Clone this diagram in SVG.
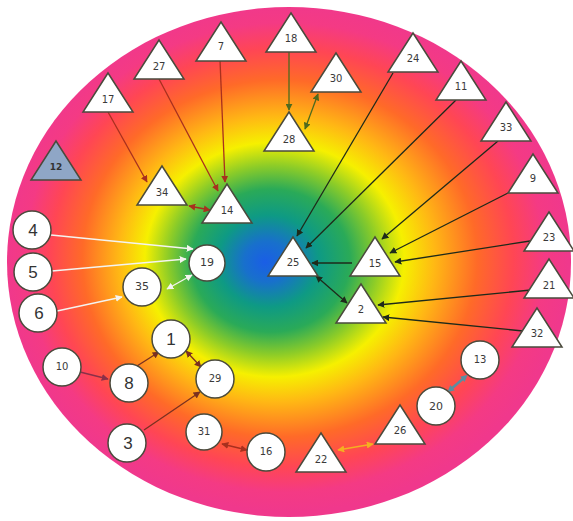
<svg xmlns="http://www.w3.org/2000/svg" xmlns:xlink="http://www.w3.org/1999/xlink" width="573" height="521" viewBox="0 0 573 521">
<style>
.tri{fill:#ffffff;stroke:#4a4a3c;stroke-width:1.5;stroke-linejoin:miter}
.cir{fill:#ffffff;stroke:#4a4a3c;stroke-width:1.5}
.t{font-family:"DejaVu Sans","Liberation Sans",sans-serif;font-size:10px;fill:#3a3a3a;text-anchor:middle}
.big{font-family:"Liberation Sans","DejaVu Sans",sans-serif;font-size:17px;fill:#333;text-anchor:middle}
.c{fill:none;stroke-width:1.3}
.red{stroke:#a8301e}
.olv{stroke:#4e6a1e}
.dk{stroke:#1e2a1a}
.wh{stroke:#f4f4f0}
.brn{stroke:#7a3020}
.tl{stroke:#5a8ea0;stroke-width:2.5}
.or{stroke:#f4b020;stroke-width:1.6}
.pr{stroke:#8a3048}
</style>
<defs>
<radialGradient id="bg" cx="0.495" cy="0.49" r="0.5" fx="0.457" fy="0.5">
<stop offset="0" stop-color="#1a5ee6"/>
<stop offset="0.08" stop-color="#1870cc"/>
<stop offset="0.18" stop-color="#0e9a84"/>
<stop offset="0.28" stop-color="#2aaa58"/>
<stop offset="0.37" stop-color="#8ccc28"/>
<stop offset="0.46" stop-color="#f6f000"/>
<stop offset="0.56" stop-color="#ffb814"/>
<stop offset="0.7" stop-color="#ff6a28"/>
<stop offset="0.82" stop-color="#ff4654"/>
<stop offset="0.92" stop-color="#f43a84"/>
<stop offset="1" stop-color="#f0388c"/>
</radialGradient>
<polygon id="tri" points="0,0 25,39 -25,39"/>
<marker id="aRed" viewBox="0 0 10 10" refX="9" refY="5" markerWidth="7" markerHeight="7" markerUnits="userSpaceOnUse" orient="auto-start-reverse"><path d="M0,0 L10,5 L0,10 Z" fill="#a8301e"/></marker>
<marker id="aOlv" viewBox="0 0 10 10" refX="9" refY="5" markerWidth="7" markerHeight="7" markerUnits="userSpaceOnUse" orient="auto-start-reverse"><path d="M0,0 L10,5 L0,10 Z" fill="#4e6a1e"/></marker>
<marker id="aDk" viewBox="0 0 10 10" refX="9" refY="5" markerWidth="7" markerHeight="7" markerUnits="userSpaceOnUse" orient="auto-start-reverse"><path d="M0,0 L10,5 L0,10 Z" fill="#1e2a1a"/></marker>
<marker id="aWh" viewBox="0 0 10 10" refX="9" refY="5" markerWidth="7" markerHeight="7" markerUnits="userSpaceOnUse" orient="auto-start-reverse"><path d="M0,0 L10,5 L0,10 Z" fill="#f4f4f0"/></marker>
<marker id="aBrn" viewBox="0 0 10 10" refX="9" refY="5" markerWidth="7" markerHeight="7" markerUnits="userSpaceOnUse" orient="auto-start-reverse"><path d="M0,0 L10,5 L0,10 Z" fill="#7a3020"/></marker>
<marker id="aTl" viewBox="0 0 10 10" refX="5" refY="5" markerWidth="7" markerHeight="7" markerUnits="userSpaceOnUse" orient="auto-start-reverse"><path d="M0,0 L10,5 L0,10 Z" fill="#5a8ea0"/></marker>
<marker id="aOr" viewBox="0 0 10 10" refX="9" refY="5" markerWidth="7" markerHeight="7" markerUnits="userSpaceOnUse" orient="auto-start-reverse"><path d="M0,0 L10,5 L0,10 Z" fill="#f4b020"/></marker>
<marker id="aPr" viewBox="0 0 10 10" refX="9" refY="5" markerWidth="7" markerHeight="7" markerUnits="userSpaceOnUse" orient="auto-start-reverse"><path d="M0,0 L10,5 L0,10 Z" fill="#8a3048"/></marker>
</defs>
<rect width="573" height="521" fill="#ffffff"/>
<ellipse id="background" cx="289" cy="262" rx="282" ry="255" fill="url(#bg)"/>

<g id="connectors">
<line class="c red" x1="108" y1="112" x2="147" y2="182" marker-end="url(#aRed)"/>
<line class="c red" x1="159" y1="79" x2="218" y2="191" marker-end="url(#aRed)"/>
<line class="c red" x1="220" y1="60" x2="225" y2="182" marker-end="url(#aRed)"/>
<line class="c red" x1="189" y1="206" x2="210" y2="210" marker-start="url(#aRed)" marker-end="url(#aRed)"/>
<line class="c olv" x1="289" y1="52" x2="289" y2="110" marker-end="url(#aOlv)"/>
<line class="c olv" x1="318" y1="94" x2="305" y2="129" marker-start="url(#aOlv)" marker-end="url(#aOlv)"/>
<line class="c dk" x1="393" y1="73" x2="297" y2="236" marker-end="url(#aDk)"/>
<line class="c dk" x1="456" y1="100" x2="306" y2="248" marker-end="url(#aDk)"/>
<line class="c dk" x1="498" y1="141" x2="382" y2="239" marker-end="url(#aDk)"/>
<line class="c dk" x1="508" y1="193" x2="390" y2="253" marker-end="url(#aDk)"/>
<line class="c dk" x1="530" y1="241" x2="395" y2="262" marker-end="url(#aDk)"/>
<line class="c dk" x1="352" y1="263" x2="312" y2="263" marker-end="url(#aDk)"/>
<line class="c dk" x1="316" y1="276" x2="347" y2="303" marker-start="url(#aDk)" marker-end="url(#aDk)"/>
<line class="c dk" x1="531" y1="290" x2="378" y2="305" marker-end="url(#aDk)"/>
<line class="c dk" x1="523" y1="331" x2="383" y2="317" marker-end="url(#aDk)"/>
<line class="c wh" x1="51" y1="235" x2="193" y2="249" marker-end="url(#aWh)"/>
<line class="c wh" x1="52" y1="271" x2="186" y2="259" marker-end="url(#aWh)"/>
<line class="c wh" x1="57" y1="311" x2="122" y2="297" marker-end="url(#aWh)"/>
<line class="c wh" x1="167" y1="289" x2="192" y2="275" marker-start="url(#aWh)" marker-end="url(#aWh)"/>
<line class="c pr" x1="80" y1="372" x2="108" y2="379" marker-end="url(#aPr)"/>
<line class="c brn" x1="137" y1="366" x2="159" y2="352" marker-end="url(#aBrn)"/>
<line class="c brn" x1="186" y1="351" x2="201" y2="367" marker-start="url(#aBrn)" marker-end="url(#aBrn)"/>
<line class="c brn" x1="144" y1="430" x2="200" y2="392" marker-end="url(#aBrn)"/>
<line class="c red" x1="222" y1="444" x2="247" y2="450" marker-start="url(#aRed)" marker-end="url(#aRed)"/>
<line class="c tl" x1="465" y1="377" x2="450" y2="390" marker-start="url(#aTl)" marker-end="url(#aTl)"/>
<line class="c or" x1="373" y1="444" x2="338" y2="450" marker-start="url(#aOr)" marker-end="url(#aOr)"/>
</g>

<g id="n17" transform="translate(108,73)"><use href="#tri" class="tri"/><text class="t" y="30">17</text></g>
<g id="n27" transform="translate(159,40)"><use href="#tri" class="tri"/><text class="t" y="30">27</text></g>
<g id="n7" transform="translate(221,22)"><use href="#tri" class="tri"/><text class="t" y="28">7</text></g>
<g id="n18" transform="translate(291,13)"><use href="#tri" class="tri"/><text class="t" y="29">18</text></g>
<g id="n30" transform="translate(336,53)"><use href="#tri" class="tri"/><text class="t" y="29">30</text></g>
<g id="n28" transform="translate(289,112)"><use href="#tri" class="tri"/><text class="t" y="31">28</text></g>
<g id="n24" transform="translate(413,33)"><use href="#tri" class="tri"/><text class="t" y="29">24</text></g>
<g id="n11" transform="translate(461,61)"><use href="#tri" class="tri"/><text class="t" y="29">11</text></g>
<g id="n33" transform="translate(506,102)"><use href="#tri" class="tri"/><text class="t" y="29">33</text></g>
<g id="n9" transform="translate(533,154)"><use href="#tri" class="tri"/><text class="t" y="28">9</text></g>
<g id="n23" transform="translate(549,212)"><use href="#tri" class="tri"/><text class="t" y="29">23</text></g>
<g id="n21" transform="translate(549,259)"><use href="#tri" class="tri"/><text class="t" y="30">21</text></g>
<g id="n32" transform="translate(537,308)"><use href="#tri" class="tri"/><text class="t" y="29">32</text></g>
<g id="n15" transform="translate(375,237)"><use href="#tri" class="tri"/><text class="t" y="30">15</text></g>
<g id="n25" transform="translate(293,237)"><use href="#tri" class="tri"/><text class="t" y="29">25</text></g>
<g id="n2" transform="translate(361,284)"><use href="#tri" class="tri"/><text class="t" y="29">2</text></g>
<g id="n14" transform="translate(227,184)"><use href="#tri" class="tri"/><text class="t" y="30">14</text></g>
<g id="n34" transform="translate(162,166)"><use href="#tri" class="tri"/><text class="t" y="30">34</text></g>
<g id="n12" transform="translate(56,141)"><use href="#tri" class="tri" style="fill:#8fa6c6"/><text class="t" y="29" style="font-weight:bold;font-size:9px;fill:#333">12</text></g>
<g id="n26" transform="translate(400,405)"><use href="#tri" class="tri"/><text class="t" y="29">26</text></g>
<g id="n22" transform="translate(321,433)"><use href="#tri" class="tri"/><text class="t" y="30">22</text></g>

<g id="n4"><circle class="cir" cx="32" cy="230" r="19"/><text class="big" x="33" y="236">4</text></g>
<g id="n5"><circle class="cir" cx="33" cy="272" r="19"/><text class="big" x="33" y="278">5</text></g>
<g id="n6"><circle class="cir" cx="38" cy="313" r="19"/><text class="big" x="39" y="319">6</text></g>
<g id="n19"><circle class="cir" cx="207" cy="263" r="18"/><text class="t" x="207" y="266" style="font-size:11px">19</text></g>
<g id="n35"><circle class="cir" cx="142" cy="287" r="19"/><text class="t" x="142" y="290" style="font-size:11px">35</text></g>
<g id="n1"><circle class="cir" cx="171" cy="339" r="19"/><text class="big" x="171" y="345">1</text></g>
<g id="n10"><circle class="cir" cx="62" cy="367" r="19"/><text class="t" x="62" y="370">10</text></g>
<g id="n8"><circle class="cir" cx="129" cy="383" r="19"/><text class="big" x="129" y="389">8</text></g>
<g id="n29"><circle class="cir" cx="215" cy="379" r="19"/><text class="t" x="215" y="382">29</text></g>
<g id="n3"><circle class="cir" cx="127" cy="443" r="19"/><text class="big" x="128" y="449">3</text></g>
<g id="n31"><circle class="cir" cx="204" cy="432" r="18"/><text class="t" x="204" y="435">31</text></g>
<g id="n16"><circle class="cir" cx="266" cy="452" r="19"/><text class="t" x="266" y="455">16</text></g>
<g id="n13"><circle class="cir" cx="480" cy="360" r="19"/><text class="t" x="480" y="363">13</text></g>
<g id="n20"><circle class="cir" cx="436" cy="406" r="19"/><text class="t" x="436" y="410" style="font-size:11px">20</text></g>
</svg>
